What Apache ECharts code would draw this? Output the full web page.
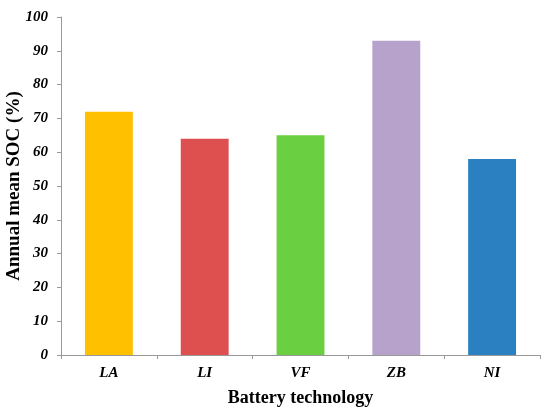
<!DOCTYPE html>
<html><head><meta charset="utf-8">
<script src="https://cdn.jsdelivr.net/npm/echarts@6/dist/echarts.min.js"></script>
<style>html,body{margin:0;padding:0;background:#fff}#c{width:550px;height:413px}</style>
</head><body><div id="c"></div>
<script>
const categories = ['LA', 'LI', 'VF', 'ZB', 'NI'];
const values = [72, 64, 65, 93, 58];
const colors = ['#FFC000', '#DE5050', '#6AD042', '#B7A2CC', '#2A80C0'];
const yTicks = [0, 10, 20, 30, 40, 50, 60, 70, 80, 90, 100];

const serif = '"Liberation Serif", "DejaVu Serif", serif';
const chart = echarts.init(document.getElementById('c'));
chart.setOption({
  animation: false,
  grid: { left: 61, right: 10, top: 17, bottom: 58, containLabel: false, outerBoundsMode: 'none' },
  xAxis: {
    type: 'category', data: categories,
    name: 'Battery technology', nameLocation: 'middle', nameGap: 34, nameMoveOverlap: false,
    nameTextStyle: { fontFamily: serif, fontWeight: 'bold', fontSize: 18, color: '#000' },
    axisLine: { lineStyle: { color: '#999', width: 1 } },
    axisTick: { show: true, length: 4, alignWithLabel: false, lineStyle: { color: '#999' } },
    axisLabel: { fontFamily: serif, fontWeight: 'bold', fontStyle: 'italic', fontSize: 15, color: '#000', margin: 11 }
  },
  yAxis: {
    type: 'value', min: 0, max: 100, interval: 10,
    name: 'Annual mean SOC (%)', nameLocation: 'middle', nameGap: 37, nameMoveOverlap: false,
    nameTextStyle: { fontFamily: serif, fontWeight: 'bold', fontSize: 19, color: '#000' },
    axisLine: { show: true, lineStyle: { color: '#999', width: 1 } },
    axisTick: { show: true, length: 4, lineStyle: { color: '#999' } },
    splitLine: { show: false },
    axisLabel: { fontFamily: serif, fontWeight: 'bold', fontStyle: 'italic', fontSize: 15, color: '#000', margin: 13,
      formatter: v => yTicks.includes(v) ? String(v) : '' }
  },
  series: [{
    type: 'bar', barWidth: '50%',
    data: values.map((v, i) => ({ value: v, itemStyle: { color: colors[i] } }))
  }]
});
</script></body></html>
